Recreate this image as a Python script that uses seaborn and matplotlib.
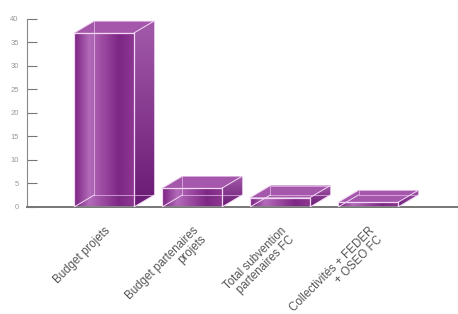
import numpy as np
import matplotlib
matplotlib.use("Agg")
import matplotlib.pyplot as plt
import seaborn as sns
from matplotlib.patches import Polygon
from matplotlib.colors import LinearSegmentedColormap

# values
categories = ["Budget projets", "Budget partenaires\nprojets",
              "Total subvention\npartenaires FC", "Collectivités + FEDER\n+ OSEO FC"]
values = [37, 4, 2, 1]
yticks = [0, 5, 10, 15, 20, 25, 30, 35, 40]

sns.set_style("white")
plt.rcParams['font.family'] = ['Liberation Sans', 'DejaVu Sans']

fig = plt.figure(figsize=(4.58, 3.14), dpi=100)
ax = fig.add_axes([0.059, 0.341, 0.941, 0.599])

sns.barplot(x=categories, y=values, ax=ax, width=0.68, color="#8E3A94",
            saturation=1, edgecolor="none", zorder=2)
ax.set_xlim(-0.875, 4.02)
ax.set_ylim(0, 40)

# 3D depth offset, data units
dx, dy = 0.23, 2.55
front_cmap = LinearSegmentedColormap.from_list(
    "front", ["#7A2482", "#B26BB9", "#9A48A0", "#7E2886", "#8C3692"])
side_cmap = LinearSegmentedColormap.from_list("side", ["#6A1A74", "#A35AAA"])
edge = "#F2D8F4"

for bar in ax.patches:
    x0, y0 = bar.get_x(), bar.get_y()
    w, h = bar.get_width(), bar.get_height()
    x1, y1 = x0 + w, y0 + h
    bar.set_facecolor("none")
    grad = np.linspace(0, 1, 64).reshape(1, -1)
    im = ax.imshow(grad, cmap=front_cmap, aspect="auto",
                   extent=(x0, x1, y0, y1), zorder=2)
    im.set_clip_path(bar)
    # side face
    side = Polygon([(x1, y0), (x1 + dx, y0 + dy), (x1 + dx, y1 + dy), (x1, y1)],
                   closed=True, facecolor="#8A3A92", edgecolor="none", zorder=2)
    ax.add_patch(side)
    sgrad = np.linspace(0, 1, 64).reshape(-1, 1)
    sim = ax.imshow(sgrad, cmap=side_cmap, aspect="auto",
                    extent=(x1, x1 + dx, y0, y1 + dy), zorder=2, origin="lower")
    sim.set_clip_path(side)
    # top face
    top = Polygon([(x0, y1), (x0 + dx, y1 + dy), (x1 + dx, y1 + dy), (x1, y1)],
                  closed=True, facecolor="#A557AC", edgecolor="none", zorder=3)
    ax.add_patch(top)
    # edges of the translucent box
    lw = 0.9
    ax.plot([x0, x1, x1, x0, x0], [y0, y0, y1, y1, y0], color=edge, lw=lw, zorder=4)
    ax.plot([x0 + dx, x1 + dx, x1 + dx, x0 + dx, x0 + dx],
            [y0 + dy, y0 + dy, y1 + dy, y1 + dy, y0 + dy],
            color=edge, lw=0.6, alpha=0.7, zorder=4)
    for (px, py) in [(x0, y0), (x1, y0), (x1, y1), (x0, y1)]:
        ax.plot([px, px + dx], [py, py + dy], color=edge, lw=0.7, zorder=4)

ax.set_aspect("auto")
ax.set_xlim(-0.875, 4.02)
ax.set_ylim(0, 40)

ax.set_yticks(yticks)
ax.set_yticklabels([str(t) for t in yticks])
ax.tick_params(axis="y", direction="in", length=7, width=0.8, color="#777777",
               labelsize=5.5, labelcolor="#999999", pad=6, left=True)
ax.tick_params(axis="x", length=0, labelsize=8.3, labelcolor="#555555", pad=13)
for lbl in ax.get_xticklabels():
    lbl.set_rotation(45)
    lbl.set_ha("right")
    lbl.set_rotation_mode("anchor")
    lbl.set_multialignment("right")
    lbl.set_linespacing(1.0)

sns.despine(ax=ax, top=True, right=True)
ax.spines["left"].set_color("#888888")
ax.spines["left"].set_linewidth(0.8)
ax.spines["bottom"].set_color("#777777")
ax.spines["bottom"].set_linewidth(1.4)
ax.patch.set_alpha(0)

fig.savefig("out.png", dpi=100)
